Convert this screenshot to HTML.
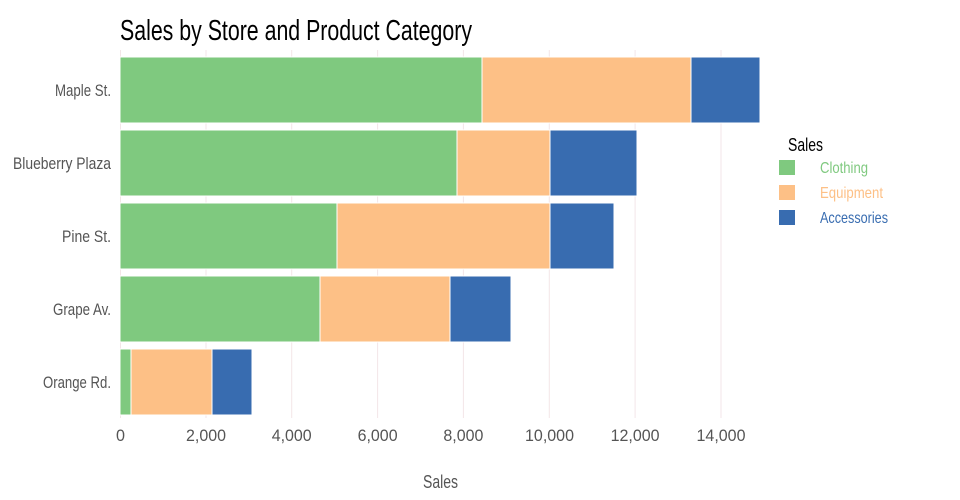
<!DOCTYPE html>
<html><head><meta charset="utf-8"><style>
html,body{margin:0;padding:0;background:#fff}
svg{display:block}
text{font-family:"Liberation Sans Narrow","Liberation Sans",sans-serif}
</style></head><body>
<svg width="960" height="500" viewBox="0 0 960 500" xmlns="http://www.w3.org/2000/svg">
<text x="120" y="40" font-size="29" fill="#000" textLength="352" lengthAdjust="spacingAndGlyphs">Sales by Store and Product Category</text>
<g stroke="#f3e6e8" stroke-width="1">
<line x1="120.5" y1="50" x2="120.5" y2="418"/>
<line x1="206" y1="50" x2="206" y2="418"/>
<line x1="291.7" y1="50" x2="291.7" y2="418"/>
<line x1="377.6" y1="50" x2="377.6" y2="418"/>
<line x1="463.4" y1="50" x2="463.4" y2="418"/>
<line x1="549.3" y1="50" x2="549.3" y2="418"/>
<line x1="635.1" y1="50" x2="635.1" y2="418"/>
<line x1="721" y1="50" x2="721" y2="418"/>
</g>
<g stroke="#fff" stroke-width="1">
<rect x="120" y="57" width="362" height="66" fill="#7fc97f"/>
<rect x="482" y="57" width="209" height="66" fill="#fdc086"/>
<rect x="691" y="57" width="69" height="66" fill="#386cb0"/>
<rect x="120" y="130" width="337" height="66" fill="#7fc97f"/>
<rect x="457" y="130" width="93" height="66" fill="#fdc086"/>
<rect x="550" y="130" width="87" height="66" fill="#386cb0"/>
<rect x="120" y="203" width="217" height="66" fill="#7fc97f"/>
<rect x="337" y="203" width="213" height="66" fill="#fdc086"/>
<rect x="550" y="203" width="64" height="66" fill="#386cb0"/>
<rect x="120" y="276" width="200" height="66" fill="#7fc97f"/>
<rect x="320" y="276" width="130" height="66" fill="#fdc086"/>
<rect x="450" y="276" width="61" height="66" fill="#386cb0"/>
<rect x="120" y="349" width="11" height="66" fill="#7fc97f"/>
<rect x="131" y="349" width="81" height="66" fill="#fdc086"/>
<rect x="212" y="349" width="40" height="66" fill="#386cb0"/>
</g>
<g font-size="17" fill="#555" lengthAdjust="spacingAndGlyphs">
<text x="55" y="96" textLength="56" lengthAdjust="spacingAndGlyphs">Maple St.</text>
<text x="13" y="169" textLength="98" lengthAdjust="spacingAndGlyphs">Blueberry Plaza</text>
<text x="62" y="242" textLength="49" lengthAdjust="spacingAndGlyphs">Pine St.</text>
<text x="53" y="315" textLength="58" lengthAdjust="spacingAndGlyphs">Grape Av.</text>
<text x="43" y="388" textLength="68" lengthAdjust="spacingAndGlyphs">Orange Rd.</text>
</g>
<g font-size="17" fill="#555">
<text x="116" y="441" textLength="9" lengthAdjust="spacingAndGlyphs">0</text>
<text x="186" y="441" textLength="40" lengthAdjust="spacingAndGlyphs">2,000</text>
<text x="271.7" y="441" textLength="40" lengthAdjust="spacingAndGlyphs">4,000</text>
<text x="357.6" y="441" textLength="40" lengthAdjust="spacingAndGlyphs">6,000</text>
<text x="443.4" y="441" textLength="40" lengthAdjust="spacingAndGlyphs">8,000</text>
<text x="525" y="441" textLength="49" lengthAdjust="spacingAndGlyphs">10,000</text>
<text x="610.6" y="441" textLength="49" lengthAdjust="spacingAndGlyphs">12,000</text>
<text x="696.5" y="441" textLength="49" lengthAdjust="spacingAndGlyphs">14,000</text>
<text x="423" y="488" font-size="18" textLength="35" lengthAdjust="spacingAndGlyphs">Sales</text>
</g>
<text x="788" y="151" font-size="18" fill="#000" textLength="35" lengthAdjust="spacingAndGlyphs">Sales</text>
<rect x="779" y="160" width="16" height="15" fill="#7fc97f"/>
<rect x="779" y="185" width="16" height="15" fill="#fdc086"/>
<rect x="779" y="210" width="16" height="15" fill="#386cb0"/>
<g font-size="16">
<text x="820" y="173" fill="#7fc97f" textLength="48" lengthAdjust="spacingAndGlyphs">Clothing</text>
<text x="820" y="198" fill="#fdc086" textLength="63" lengthAdjust="spacingAndGlyphs">Equipment</text>
<text x="820" y="223" fill="#386cb0" textLength="68" lengthAdjust="spacingAndGlyphs">Accessories</text>
</g>
</svg>
</body></html>
